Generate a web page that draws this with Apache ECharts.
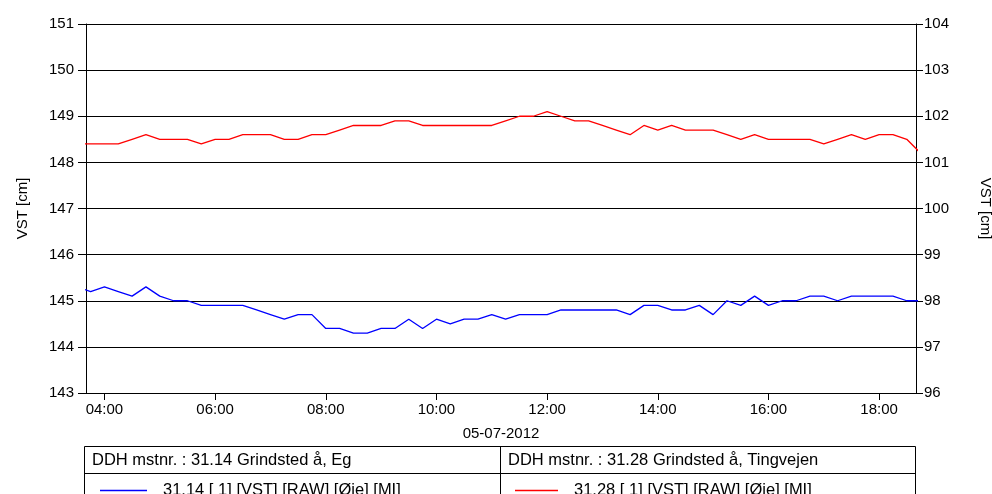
<!DOCTYPE html>
<html>
<head>
<meta charset="utf-8">
<script src="https://cdn.jsdelivr.net/npm/echarts@6/dist/echarts.min.js"></script>
<style>
  html, body { margin: 0; padding: 0; background: #fff; }
  #chart { width: 992px; height: 494px; }
</style>
</head>
<body>
<div id="chart"></div>
<script>
// 时间点 (05-07-2012), 每15分钟一个
var times = [
  "03:30","03:45","04:00","04:15","04:30","04:45","05:00","05:15","05:30","05:45",
  "06:00","06:15","06:30","06:45","07:00","07:15","07:30","07:45",
  "08:00","08:15","08:30","08:45","09:00","09:15","09:30","09:45",
  "10:00","10:15","10:30","10:45","11:00","11:15","11:30","11:45",
  "12:00","12:15","12:30","12:45","13:00","13:15","13:30","13:45",
  "14:00","14:15","14:30","14:45","15:00","15:15","15:30","15:45",
  "16:00","16:15","16:30","16:45","17:00","17:15","17:30","17:45",
  "18:00","18:15","18:30","18:45"
]
// 31.14 Grindsted å, Eg (venstre akse)
var egValues = [
  145.3,145.2,145.3,145.2,145.1,145.3,145.1,145.0,145.0,144.9,
  144.9,144.9,144.9,144.8,144.7,144.6,144.7,144.7,
  144.4,144.4,144.3,144.3,144.4,144.4,144.6,144.4,
  144.6,144.5,144.6,144.6,144.7,144.6,144.7,144.7,
  144.7,144.8,144.8,144.8,144.8,144.8,144.7,144.9,
  144.9,144.8,144.8,144.9,144.7,145.0,144.9,145.1,
  144.9,145.0,145.0,145.1,145.1,145.0,145.1,145.1,
  145.1,145.1,145.0,145.0
]
// 31.28 Grindsted å, Tingvejen (højre akse)
var tingValues = [
  101.4,101.4,101.4,101.4,101.5,101.6,101.5,101.5,101.5,101.4,
  101.5,101.5,101.6,101.6,101.6,101.5,101.5,101.6,
  101.6,101.7,101.8,101.8,101.8,101.9,101.9,101.8,
  101.8,101.8,101.8,101.8,101.8,101.9,102.0,102.0,
  102.1,102.0,101.9,101.9,101.8,101.7,101.6,101.8,
  101.7,101.8,101.7,101.7,101.7,101.6,101.5,101.6,
  101.5,101.5,101.5,101.5,101.4,101.5,101.6,101.5,
  101.6,101.6,101.5,101.2
]
// x 轴刻度
var xTicks = ["04:00","06:00","08:00","10:00","12:00","14:00","16:00","18:00"]
var xMin = "03:40", xMax = "18:40"
var leftTicks = [143,144,145,146,147,148,149,150,151]
var rightTicks = [96,97,98,99,100,101,102,103,104]

var dateLabel = "05-07-2012"
var egStation = "DDH mstnr. : 31.14 Grindsted å, Eg"
var tingStation = "DDH mstnr. : 31.28 Grindsted å, Tingvejen"
var egName = "31.14 [ 1] [VST] [RAW] [Øje] [MI]"
var tingName = "31.28 [ 1] [VST] [RAW] [Øje] [MI]"

function toMin(s) {
  var p = s.split(":")
  return +p[0] * 60 + +p[1]
}
function fmt(m) {
  var h = Math.floor(m / 60), mm = m % 60
  return (h < 10 ? "0" : "") + h + ":" + (mm < 10 ? "0" : "") + mm
}

var font = "'Liberation Sans', Arial, sans-serif"
var chart = echarts.init(document.getElementById("chart"))

var option = {
  backgroundColor: "#fff",
  animation: false,
  textStyle: { fontFamily: font, color: "#000" },
  grid: { left: 86, top: 24, right: 76, height: 369, outerBoundsMode: "none", containLabel: false },
  xAxis: {
    type: "value",
    min: toMin(xMin),
    max: toMin(xMax),
    axisLine: { lineStyle: { color: "#000", width: 1 } },
    axisTick: { show: true, length: 7, customValues: xTicks.map(toMin), lineStyle: { color: "#000" } },
    axisLabel: {
      customValues: xTicks.map(toMin),
      formatter: function (v) { return fmt(v) },
      color: "#000", fontSize: 15, margin: 9, fontFamily: font
    },
    splitLine: { show: false },
    name: dateLabel,
    nameLocation: "middle",
    nameGap: 33,
    nameTextStyle: { color: "#000", fontSize: 15, fontFamily: font }
  },
  yAxis: [
    {
      type: "value",
      min: leftTicks[0],
      max: leftTicks[leftTicks.length - 1],
      interval: 1,
      position: "left",
      axisLine: { show: true, lineStyle: { color: "#000", width: 1 } },
      axisTick: { show: true, length: 8, lineStyle: { color: "#000" } },
      axisLabel: { color: "#000", fontSize: 15, margin: 12, fontFamily: font },
      splitLine: { show: true, lineStyle: { color: "#000", width: 1 } },
      name: "VST [cm]",
      nameLocation: "middle",
      nameRotate: 90,
      nameGap: 56,
      nameTextStyle: { color: "#000", fontSize: 15, fontFamily: font }
    },
    {
      type: "value",
      min: rightTicks[0],
      max: rightTicks[rightTicks.length - 1],
      interval: 1,
      position: "right",
      axisLine: { show: true, lineStyle: { color: "#000", width: 1 } },
      axisTick: { show: true, length: 7, lineStyle: { color: "#000" } },
      axisLabel: { color: "#000", fontSize: 15, margin: 8, fontFamily: font },
      splitLine: { show: false },
      name: "VST [cm]",
      nameLocation: "middle",
      nameRotate: -90,
      nameGap: 62,
      nameTextStyle: { color: "#000", fontSize: 15, fontFamily: font }
    }
  ],
  legend: [
    {
      data: [{ name: egName, icon: "rect" }],
      left: 100, top: 482,
      itemWidth: 47, itemHeight: 1.5, padding: 0,
      textStyle: { fontSize: 16.5, color: "#000", fontFamily: font, padding: [0, 0, 0, 11] }
    },
    {
      data: [{ name: tingName, icon: "rect" }],
      left: 515, top: 482,
      itemWidth: 43, itemHeight: 1.5, padding: 0,
      textStyle: { fontSize: 16.5, color: "#000", fontFamily: font, padding: [0, 0, 0, 11] }
    }
  ],
  series: [
    {
      name: egName,
      type: "line",
      yAxisIndex: 0,
      data: times.map(function (t, i) { return [toMin(t), egValues[i]] }),
      showSymbol: false,
      symbol: "none",
      clip: true,
      color: "#0000ff",
      lineStyle: { color: "#0000ff", width: 1.3 }
    },
    {
      name: tingName,
      type: "line",
      yAxisIndex: 1,
      data: times.map(function (t, i) { return [toMin(t), tingValues[i]] }),
      showSymbol: false,
      symbol: "none",
      clip: true,
      color: "#ff0000",
      lineStyle: { color: "#ff0000", width: 1.3 }
    }
  ],
  // 图例表格
  graphic: [
    { type: "rect", shape: { x: 84.5, y: 446.5, width: 831, height: 60 },
      style: { fill: "none", stroke: "#000", lineWidth: 1 } },
    { type: "line", shape: { x1: 84.5, y1: 473.5, x2: 915.5, y2: 473.5 },
      style: { stroke: "#000", lineWidth: 1 } },
    { type: "line", shape: { x1: 500.5, y1: 446.5, x2: 500.5, y2: 500 },
      style: { stroke: "#000", lineWidth: 1 } },
    { type: "text", x: 92, y: 460,
      style: { text: egStation, fill: "#000", font: "16.5px " + font, verticalAlign: "middle" } },
    { type: "text", x: 508, y: 460,
      style: { text: tingStation, fill: "#000", font: "16.5px " + font, verticalAlign: "middle" } }
  ]
}

chart.setOption(option)
</script>
</body>
</html>
